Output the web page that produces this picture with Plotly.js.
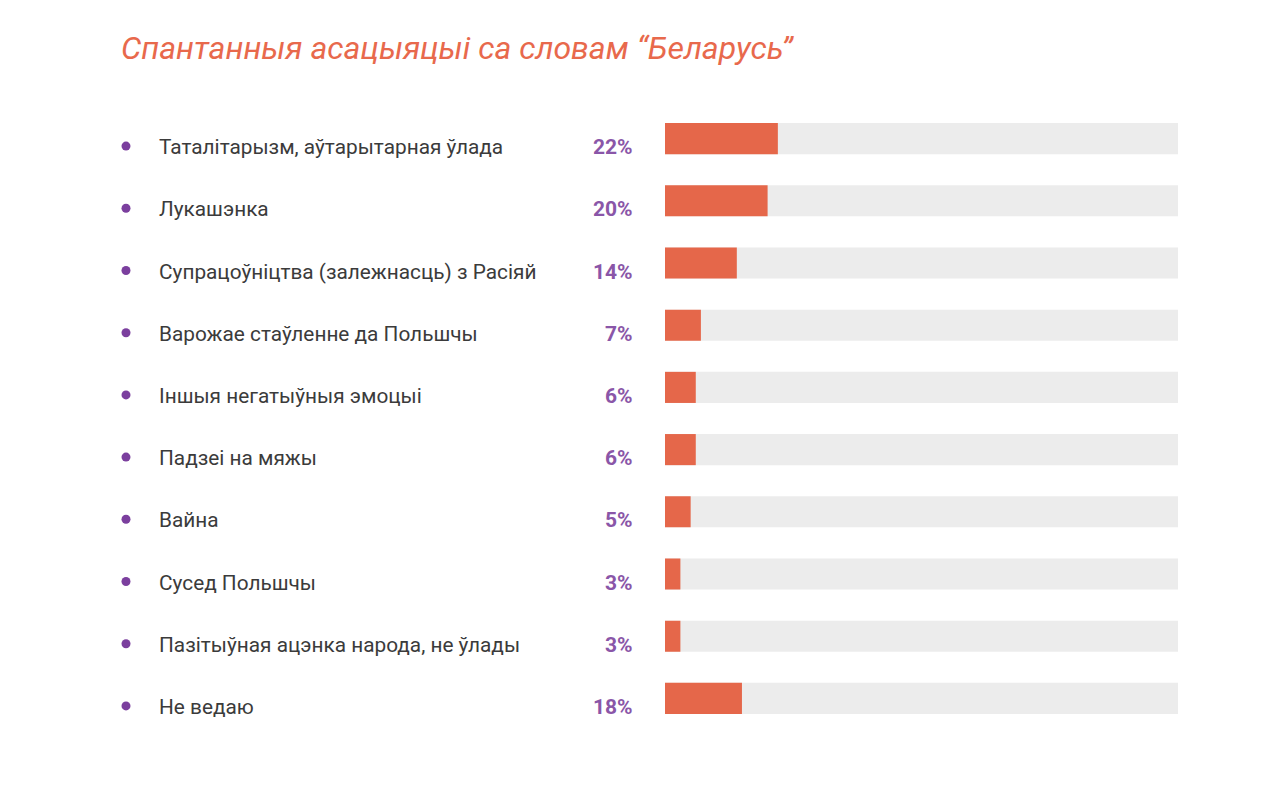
<!DOCTYPE html>
<html>
<head>
<meta charset="utf-8">
<script src="https://cdn.plot.ly/plotly-3.0.1.min.js"></script>
<style>html,body{margin:0;padding:0;background:#fff;}#chart{width:1280px;height:800px;}</style>
</head>
<body>
<div id="chart"></div>
<script>
const chartTitle = 'Спантанныя асацыяцыі са словам “Беларусь”';
const categories = [
  'Таталітарызм, аўтарытарная ўлада',
  'Лукашэнка',
  'Супрацоўніцтва (залежнасць) з Расіяй',
  'Варожае стаўленне да Польшчы',
  'Іншыя негатыўныя эмоцыі',
  'Падзеі на мяжы',
  'Вайна',
  'Сусед Польшчы',
  'Пазітыўная ацэнка народа, не ўлады',
  'Не ведаю'
];
// percentages printed next to each bar
const percentLabels = [22, 20, 14, 7, 6, 6, 5, 3, 3, 18];
// bar lengths as drawn in the picture (the "Не ведаю" bar is drawn shorter than its label)
const barLengths = [22, 20, 14, 7, 6, 6, 5, 3, 3, 15];
const trackMax = 100;

const W = 1280, H = 800;
const px = v => v / W;
const textFont = 'Roboto, "Open Sans", sans-serif';

const trackTrace = {
  type: 'bar', orientation: 'h',
  y: categories, x: categories.map(() => trackMax),
  marker: {color: '#ececec', line: {width: 0}},
  width: 0.5, hoverinfo: 'skip', showlegend: false
};
const barTrace = {
  type: 'bar', orientation: 'h',
  y: categories, x: barLengths,
  marker: {color: '#e5674a', line: {width: 0}},
  width: 0.5, hoverinfo: 'skip', showlegend: false
};

const annotations = [];
const shapes = [];
categories.forEach((c, i) => {
  annotations.push({
    xref: 'paper', yref: 'y', x: px(157), y: c, yshift: -8.5,
    xanchor: 'left', yanchor: 'middle', showarrow: false,
    text: c, font: {family: textFont, size: 20.8, color: '#3b3b3b'}
  });
  annotations.push({
    xref: 'paper', yref: 'y', x: px(635), y: c, yshift: -8.5,
    xanchor: 'right', yanchor: 'middle', showarrow: false,
    text: percentLabels[i] + '%',
    font: {family: textFont, size: 21, color: '#8a56a8', weight: 700}
  });
  shapes.push({
    type: 'circle', xref: 'paper', yref: 'y',
    xsizemode: 'pixel', ysizemode: 'pixel',
    xanchor: px(126), yanchor: c,
    x0: -4.5, x1: 4.5, y0: -12, y1: -3,
    fillcolor: '#7b3f9e', line: {width: 0}
  });
});

const layout = {
  width: W, height: H,
  margin: {l: 0, r: 0, t: 0, b: 0},
  paper_bgcolor: '#ffffff', plot_bgcolor: 'rgba(0,0,0,0)',
  barmode: 'overlay',
  title: {
    text: chartTitle, x: px(121), xanchor: 'left', xref: 'paper',
    y: 1 - 48 / H, yanchor: 'middle', yref: 'container',
    font: {family: textFont, size: 32, color: '#e8694c', style: 'italic'}
  },
  xaxis: {
    domain: [px(665), px(1178)], range: [0, trackMax],
    showgrid: false, zeroline: false, showticklabels: false, ticks: '', showline: false,
    fixedrange: true
  },
  yaxis: {
    type: 'category', autorange: false, range: [categories.length - 0.5, -0.5],
    domain: [1 - 729.5 / H, 1 - 107.5 / H],
    showgrid: false, zeroline: false, showticklabels: false, ticks: '', showline: false,
    fixedrange: true
  },
  annotations: annotations,
  shapes: shapes
};

Plotly.newPlot('chart', [trackTrace, barTrace], layout, {displayModeBar: false, staticPlot: true});
</script>
</body>
</html>
